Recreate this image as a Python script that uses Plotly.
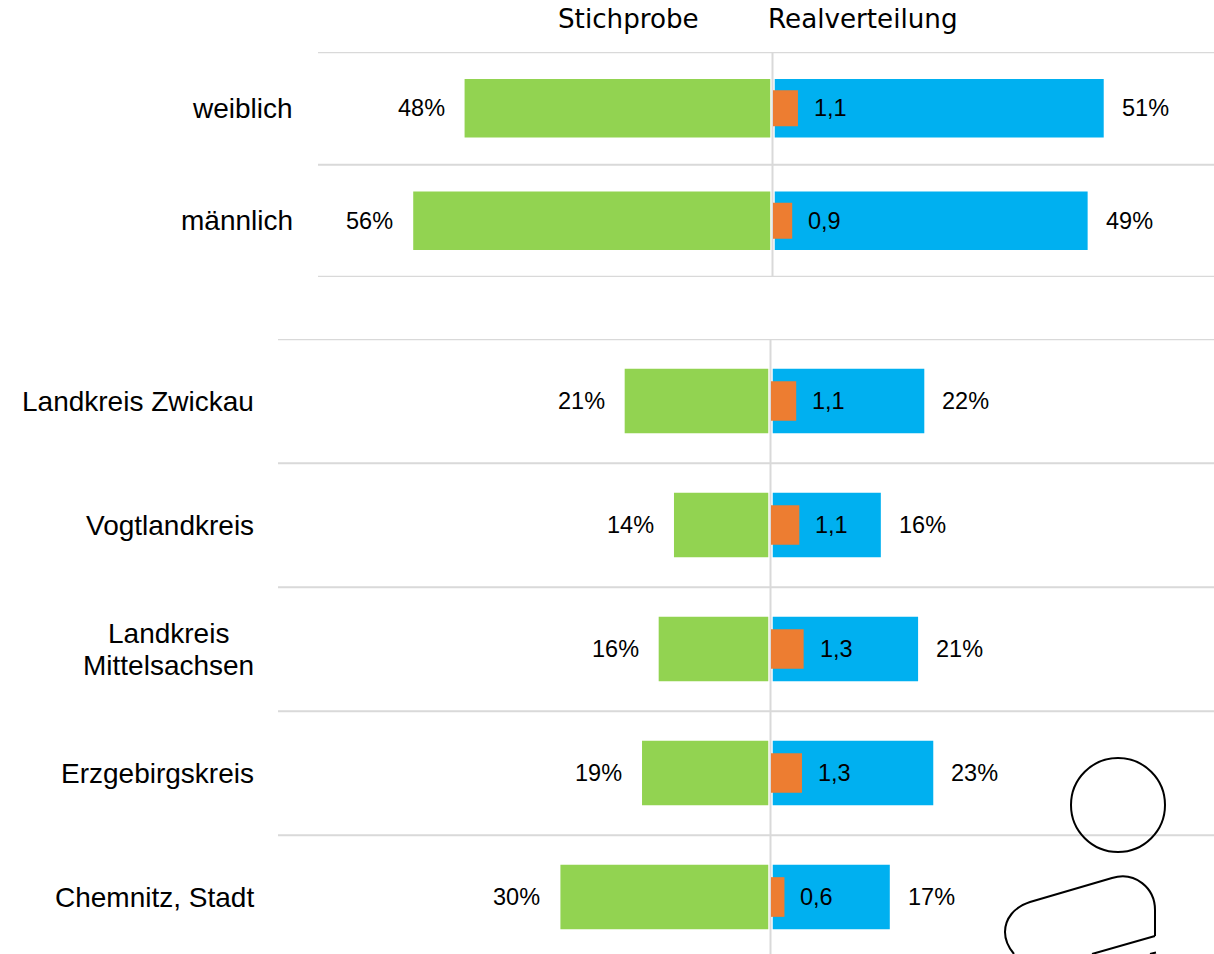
import plotly.graph_objects as go

W, H = 1214, 954
gender = ["weiblich", "männlich"]
gender_sample = [47.95, 56.0]
gender_real = [51.2, 48.7]
gender_ratio = [1.04, 0.8]
gender_ratio_labels = ["1,1", "0,9"]
gender_sample_labels = ["48%", "56%"]
gender_real_labels = ["51%", "49%"]

region = ["Landkreis Zwickau", "Vogtlandkreis", "Landkreis<br>Mittelsachsen", "Erzgebirgskreis", "Chemnitz, Stadt"]
region_sample = [21.15, 13.9, 16.15, 18.6, 30.6]
region_real = [22.0, 15.7, 21.1, 23.3, 17.0]
region_ratio = [1.05, 1.18, 1.36, 1.29, 0.56]
region_ratio_labels = ["1,1", "1,1", "1,3", "1,3", "0,6"]
region_sample_labels = ["21%", "14%", "16%", "19%", "30%"]
region_real_labels = ["22%", "16%", "21%", "23%", "17%"]

GREEN, BLUE, ORANGE, GRID = "#92D351", "#00B0F0", "#ED7D31", "#D9D9D9"
LABEL_FONT = "Liberation Sans"
HEAD_FONT = "DejaVu Sans"

fig = go.Figure()
ann = []

def px(x): return x / W
def py(y): return 1 - y / H

def panel(cats, sample, real, ratio, sl, rl, ol, xl, xr, xo, ya, label_x):
    fig.add_bar(y=cats, x=sample, orientation="h", width=0.52, marker=dict(color=GREEN, line_width=0), xaxis=xl, yaxis=ya)
    fig.add_bar(y=cats, x=real, orientation="h", width=0.52, marker=dict(color=BLUE, line_width=0), xaxis=xr, yaxis=ya)
    fig.add_bar(y=cats, x=ratio, orientation="h", width=0.32, marker=dict(color=ORANGE, line_width=0), xaxis=xo, yaxis=ya)
    val_font = dict(family=LABEL_FONT, size=23.5, color="#000")
    cat_font = dict(family=LABEL_FONT, size=28, color="#000")
    for i, c in enumerate(cats):
        ann.append(dict(x=sample[i], y=c, xref=xl, yref=ya, text=sl[i], showarrow=False, xanchor="right", xshift=-18, font=val_font))
        ann.append(dict(x=real[i], y=c, xref=xr, yref=ya, text=rl[i], showarrow=False, xanchor="left", xshift=16, font=val_font))
        ann.append(dict(x=ratio[i], y=c, xref=xo, yref=ya, text=ol[i], showarrow=False, xanchor="left", xshift=14, font=val_font))
        lines = c.split("<br>")
        for j, line in enumerate(lines):
            two = len(lines) == 2
            ann.append(dict(x=px(label_x), y=c, xref="paper", yref=ya, text=line, showarrow=False, xanchor="right",
                            yshift=(16 if j == 0 else -16) if two else 0,
                            xshift=-25 if two and j == 0 else 0,
                            font=cat_font))

panel(gender, gender_sample, gender_real, gender_ratio, gender_sample_labels, gender_real_labels, gender_ratio_labels,
      "x", "x2", "x3", "y", 295)
panel(region, region_sample, region_real, region_ratio, region_sample_labels, region_real_labels, region_ratio_labels,
      "x4", "x5", "x6", "y2", 256)

def xaxis(left, right, scale, reverse=False):
    span = (right - left) / scale
    return dict(domain=[px(left), px(right)], range=[span, 0] if reverse else [0, span], visible=False, fixedrange=True)

layout = dict(
    width=W, height=H, margin=dict(l=0, r=0, t=0, b=0), autosize=False,
    paper_bgcolor="white", plot_bgcolor="rgba(0,0,0,0)", showlegend=False, barmode="overlay",
    xaxis=xaxis(0, 770.5, 6.38, True) | dict(anchor="y"),
    xaxis2=xaxis(774.5, W, 6.43) | dict(anchor="y"),
    xaxis3=xaxis(773, W, 24) | dict(anchor="y"),
    xaxis4=xaxis(0, 768.5, 6.8, True) | dict(anchor="y2"),
    xaxis5=xaxis(772.5, W, 6.9) | dict(anchor="y2"),
    xaxis6=xaxis(771, W, 24) | dict(anchor="y2"),
    yaxis=dict(domain=[py(277), py(52)], range=[1.5, -0.5], type="category", categoryorder="array", categoryarray=gender, visible=False, fixedrange=True),
    yaxis2=dict(domain=[0, py(339)], range=[(H - 339) / 124 - 0.5, -0.5], type="category", categoryorder="array", categoryarray=region, visible=False, fixedrange=True),
)

shapes = []
for y in [-0.498, 0.502, 1.498]:
    shapes.append(dict(type="line", xref="paper", yref="y", x0=px(318), x1=1, y0=y, y1=y, line=dict(color=GRID, width=2), layer="below"))
for y in [-0.498, 0.502, 1.502, 2.502, 3.502]:
    shapes.append(dict(type="line", xref="paper", yref="y2", x0=px(278), x1=1, y0=y, y1=y, line=dict(color=GRID, width=2), layer="below"))
shapes.append(dict(type="line", xref="paper", yref="paper", x0=px(772.5), x1=px(772.5), y0=py(52), y1=py(277), line=dict(color=GRID, width=2), layer="below"))
shapes.append(dict(type="line", xref="paper", yref="paper", x0=px(770.5), x1=px(770.5), y0=py(339), y1=0, line=dict(color=GRID, width=2), layer="below"))
# person outline at lower right
shapes.append(dict(type="circle", xref="paper", yref="paper", x0=px(1071), x1=px(1165), y0=py(852), y1=py(758), line=dict(color="#000", width=2), fillcolor="rgba(0,0,0,0)"))
def P(x, y): return f"{px(x):.5f} {py(y):.5f}"
body = ("M" + P(1155, 936) + " L" + P(1155, 910) + " C" + P(1155, 888) + " " + P(1135, 871) + " " + P(1112, 878)
        + " L" + P(1030, 902) + " C" + P(1014, 907) + " " + P(1005, 919) + " " + P(1005, 932)
        + " C" + P(1005, 941) + " " + P(1009, 948) + " " + P(1014, 954) + " M" + P(1155, 936) + " L" + P(1092, 954)
        + " M" + P(1150, 954) + " L" + P(1156, 952.5))
shapes.append(dict(type="path", xref="paper", yref="paper", path=body, line=dict(color="#000", width=2), fillcolor="rgba(0,0,0,0)"))
layout["shapes"] = shapes

head = dict(family=HEAD_FONT, size=26.2, color="#000")
ann.append(dict(x=px(628), y=py(19), xref="paper", yref="paper", text="Stichprobe", showarrow=False, xanchor="center", yanchor="middle", font=head))
ann.append(dict(x=px(863), y=py(19), xref="paper", yref="paper", text="Realverteilung", showarrow=False, xanchor="center", yanchor="middle", font=head))
layout["annotations"] = ann
fig.update_layout(**layout)
fig.write_html("out.html", config=dict(displayModeBar=False),
               post_script="document.body.style.margin='0';document.documentElement.style.overflow='hidden';")
